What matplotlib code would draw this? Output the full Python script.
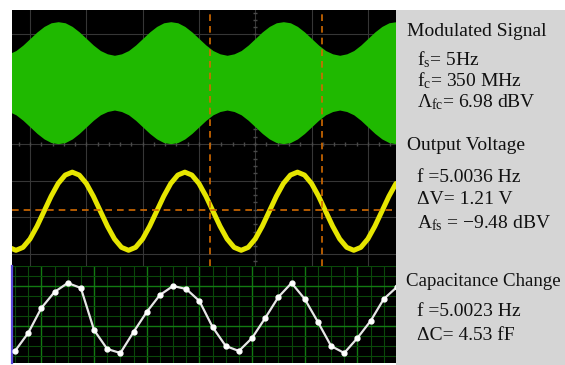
import numpy as np
import matplotlib
matplotlib.use('Agg')
import matplotlib.pyplot as plt

plt.rcParams['mathtext.fontset'] = 'custom'
plt.rcParams['mathtext.rm'] = 'Liberation Serif'
plt.rcParams['mathtext.it'] = 'Liberation Serif'

# time axis of the scope (ms), 100 ms per division
t_step = 12.5
t_env_start = -50.0
t_sig_start = -37.5

# half width of the modulated band (divisions), read from the envelope
env_half = [0.75, 0.79, 0.88, 1.03, 1.21, 1.39, 1.54, 1.64, 1.67, 1.64, 1.54, 1.39, 1.21, 1.03, 0.88, 0.79,
            0.75, 0.79, 0.88, 1.03, 1.21, 1.39, 1.54, 1.64, 1.67, 1.64, 1.54, 1.39, 1.21, 1.03, 0.88, 0.79,
            0.75, 0.79, 0.88, 1.03, 1.21, 1.39, 1.54, 1.64, 1.67, 1.64, 1.54, 1.39, 1.21, 1.03, 0.88, 0.79,
            0.75, 0.79, 0.88, 1.03, 1.21, 1.39, 1.54, 1.64, 1.67]
env_center = 1.68

# output voltage trace (divisions)
v_out = [-2.83,
         -2.91, -2.83, -2.60, -2.25, -1.84, -1.43, -1.08, -0.85, -0.77, -0.85, -1.08, -1.43, -1.84, -2.25, -2.60, -2.83,
         -2.91, -2.83, -2.60, -2.25, -1.84, -1.43, -1.08, -0.85, -0.77, -0.85, -1.08, -1.43, -1.84, -2.25, -2.60, -2.83,
         -2.91, -2.83, -2.60, -2.25, -1.84, -1.43, -1.08, -0.85, -0.77, -0.85, -1.08, -1.43, -1.84, -2.25, -2.60, -2.83,
         -2.91, -2.83, -2.60, -2.25, -1.84, -1.43, -1.08]

# cursors
cursor_t = [320, 519]
cursor_v = -1.81

# capacitance change samples
cap = [-3.5, -1.7, 0.8, 2.4, 3.3, 2.8, -1.4, -3.3, -3.7, -1.6, 0.4, 2.1, 3.0, 2.7, 1.5,
       -1.1, -3.0, -3.5, -2.2, -0.2, 1.9, 3.3, 1.7, -0.6, -3.0, -3.7, -2.2, -0.5, 1.7, 2.9]

t_env = t_env_start + t_step * np.arange(len(env_half))
t_sig = t_sig_start + t_step * np.arange(len(v_out))
env_half = np.array(env_half)

fig = plt.figure(figsize=(5.65, 3.65), dpi=100, facecolor='white')

#######################################################################################
# scope screen
#######################################################################################
ax = fig.add_axes([12 / 565, 1 - 266 / 365, 384 / 565, 256 / 365])
ax.set_facecolor('black')
ax.set_xlim(-32, 650)
ax.set_ylim(-3.34, 3.67)
for gx in range(0, 700, 100):
    ax.axvline(gx, color='#363636', linewidth=0.8, zorder=1)
for gy in range(-3, 4):
    ax.axhline(gy, color='#363636', linewidth=0.8, zorder=1)
# minor ticks on the centre lines
ax.plot(np.arange(-20, 650, 20), np.zeros(len(np.arange(-20, 650, 20))), linestyle='none',
        marker='|', markersize=3, color='#4a4a4a', zorder=1)
ax.plot(np.full(35, 400), np.arange(-3.2, 3.7, 0.2), linestyle='none',
        marker='_', markersize=3, color='#4a4a4a', zorder=1)

ax.fill_between(t_env, env_center - env_half, env_center + env_half,
                color='#1fb900', linewidth=0, zorder=2)
ax.plot(t_sig, v_out, color='#e6e600', linewidth=3.6, solid_capstyle='round', zorder=3)

for ct in cursor_t:
    ax.axvline(ct, color='#d26a00', linewidth=1.2, linestyle=(0, (4, 3)), zorder=4)
ax.axhline(cursor_v, color='#d26a00', linewidth=1.2, linestyle=(0, (4, 3)), zorder=4)

ax.set_xticks([])
ax.set_yticks([])
for s in ax.spines.values():
    s.set_visible(False)

#######################################################################################
# capacitance panel
#######################################################################################
bx = fig.add_axes([12 / 565, 2 / 365, 384 / 565, 97 / 365])
bx.set_facecolor('black')
bx.set_xlim(-0.23, 28.93)
bx.set_ylim(-4.7, 5.0)
for i in range(0, 30):
    major = (i - 2) % 4 == 0
    bx.axvline(i, color='#127a12' if major else '#0a480a', linewidth=1.0 if major else 0.8, zorder=1)
for j in range(-4, 6):
    major = (j - 3) % 4 == 0
    bx.axhline(j, color='#127a12' if major else '#0a480a', linewidth=1.0 if major else 0.8, zorder=1)
bx.plot(range(len(cap)), cap, color='#e6e6e6', linewidth=1.6, marker='o',
        markersize=3.5, markerfacecolor='white', markeredgecolor='white', zorder=3)
bx.set_xticks([])
bx.set_yticks([])
for s in bx.spines.values():
    s.set_visible(False)
bx.spines['left'].set_visible(True)
bx.spines['left'].set_color('#5a48d8')
bx.spines['left'].set_linewidth(1.6)

#######################################################################################
# readout panel
#######################################################################################
px = fig.add_axes([396 / 565, 0, 169 / 565, 355 / 365])
px.set_facecolor('#d5d5d5')
px.set_xticks([])
px.set_yticks([])
for s in px.spines.values():
    s.set_visible(False)

font = dict(family='Liberation Serif', color='#111111', va='center', ha='left')
lines = [
    (407, 31, 'Modulated Signal', 14),
    (417, 60, r'f$_\mathrm{s}$= 5Hz', 14),
    (417, 81, r'f$_\mathrm{c}$= 350 MHz', 14),
    (417, 102, r'Λ$_\mathrm{fc}$= 6.98 dBV', 14),
    (407, 146, 'Output Voltage', 14),
    (417, 178, 'f =5.0036 Hz', 14),
    (417, 200, 'ΔV= 1.21 V', 14),
    (417, 223, r'A$_\mathrm{fs}$ = −9.48 dBV', 14),
    (406, 281, 'Capacitance Change', 13.6),
    (417, 312, 'f =5.0023 Hz', 14),
    (417, 335, 'ΔC= 4.53 fF', 14),
]
for x, y, s, fs in lines:
    fig.text(x / 565, 1 - y / 365, s, fontsize=fs, **font)

plt.savefig('out.png', dpi=100)
